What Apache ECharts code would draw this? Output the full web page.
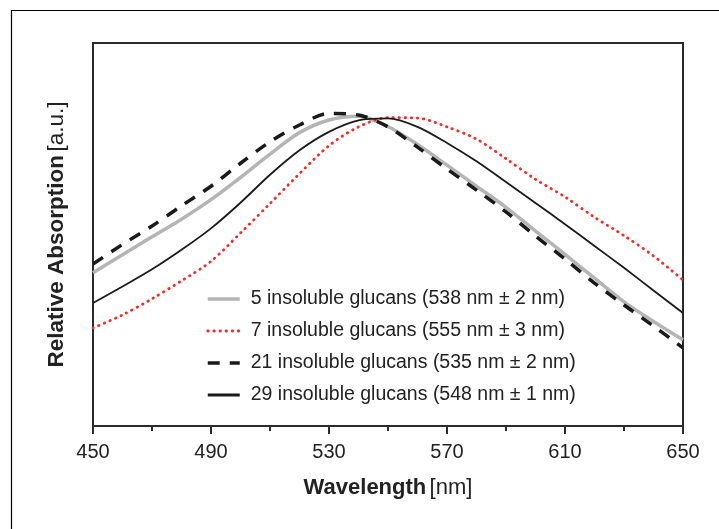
<!DOCTYPE html>
<html><head><meta charset="utf-8">
<script src="https://cdn.jsdelivr.net/npm/echarts@6/dist/echarts.min.js"></script>
<style>html,body{margin:0;padding:0;background:#fff}#c{width:719px;height:529px}</style>
</head><body><div id="c"></div>
<script>
const wavelengths = [450,460,470,480,490,500,510,520,530,540,550,560,570,580,590,600,610,620,630,640,650];
const seriesNames = [
  '5 insoluble glucans (538 nm \u00b1 2 nm)',
  '7 insoluble glucans (555 nm \u00b1 3 nm)',
  '21 insoluble glucans (535 nm \u00b1 2 nm)',
  '29 insoluble glucans (548 nm \u00b1 1 nm)'
];
const glucans5  = [40.0,44.7,49.4,54.0,59.1,64.9,71.0,76.6,79.9,80.9,78.2,73.5,68.1,62.6,57.1,50.9,44.8,38.6,32.4,27.3,22.5];
const glucans7  = [25.6,29.0,33.2,37.9,43.0,50.4,58.1,65.9,73.2,78.1,80.5,80.4,78.1,74.9,69.8,64.4,59.8,54.5,49.7,44.4,38.1];
const glucans21 = [42.3,47.4,52.2,57.5,62.6,68.6,74.2,78.6,81.6,81.2,78.1,72.8,67.1,61.6,55.9,49.6,43.6,37.3,31.6,26.1,20.4];
const glucans29 = [32.1,36.4,40.9,46.0,51.6,58.3,65.6,72.0,76.8,79.8,80.3,78.1,73.9,69.1,63.7,58.2,52.7,47.0,41.3,35.4,29.5];
const xMin = 450, xMax = 650, xStep = 40;

const FONT = '"Liberation Sans", Arial, Helvetica, sans-serif';
const pairs = vals => wavelengths.map((w, i) => [w, vals[i]]);

const chart = echarts.init(document.getElementById('c'), null, {renderer: 'canvas'});
const styles = [
  {color: '#b5b5b5', width: 3.5, type: 'solid', cap: 'butt', legendWidth: 3.5},
  {color: '#f52a2a', width: 2.8, type: [0.5, 5.6], cap: 'round', legendWidth: 2.8},
  {color: '#1a1a1a', width: 3.5, type: [12, 10], cap: 'butt', legendWidth: 3.5},
  {color: '#1a1a1a', width: 1.8, type: 'solid', cap: 'butt', legendWidth: 3}
];
const dataSets = [glucans5, glucans7, glucans21, glucans29];

chart.setOption({
  animation: false,
  backgroundColor: '#fff',
  grid: {left: 93, right: 36, top: 43, bottom: 103, show: true, borderColor: '#2b2b2b', borderWidth: 2},
  xAxis: {
    type: 'value', min: xMin, max: xMax, interval: xStep,
    axisLine: {show: true, lineStyle: {color: '#2b2b2b', width: 2}},
    axisTick: {show: true, length: 8, lineStyle: {color: '#2b2b2b', width: 2}},
    minorTick: {show: true, splitNumber: 2, length: 5, lineStyle: {color: '#2b2b2b', width: 2}},
    splitLine: {show: false},
    axisLabel: {color: '#222', fontSize: 20, fontFamily: FONT, margin: 16},
    name: '{b|Wavelength} {n|[nm]}',
    nameLocation: 'middle', nameGap: 51,
    nameTextStyle: {fontFamily: FONT, rich: {
      b: {fontSize: 22, fontWeight: 'bold', color: '#222', fontFamily: FONT},
      n: {fontSize: 22, color: '#222', fontFamily: FONT}
    }}
  },
  yAxis: {
    type: 'value', min: 0, max: 100,
    axisLine: {show: true, lineStyle: {color: '#2b2b2b', width: 2}},
    axisTick: {show: false}, axisLabel: {show: false}, splitLine: {show: false},
    name: '{b|Relative Absorption} {n|[a.u.]}',
    nameLocation: 'middle', nameGap: 25, nameRotate: 90,
    nameTextStyle: {fontFamily: FONT, rich: {
      b: {fontSize: 22.5, fontWeight: 'bold', color: '#222', fontFamily: FONT},
      n: {fontSize: 22.5, color: '#222', fontFamily: FONT}
    }}
  },
  legend: {
    show: true,
    orient: 'vertical', left: 201, top: 284, itemWidth: 32, itemHeight: 10, itemGap: 12,
    itemStyle: {opacity: 0},
    data: seriesNames.map((n, i) => ({
      name: n,
      itemStyle: {opacity: 0},
      lineStyle: {color: styles[i].color, width: styles[i].legendWidth, type: styles[i].type, cap: styles[i].cap, opacity: 1}
    })),
    textStyle: {fontSize: 19.5, color: '#222', fontFamily: FONT, lineHeight: 20, padding: [0, 0, 0, 6]}
  },
  graphic: [
    {type: 'line', shape: {x1: 11, y1: 10.5, x2: 719, y2: 10.5}, style: {stroke: '#000', lineWidth: 1.2}},
    {type: 'line', shape: {x1: 11.5, y1: 10, x2: 11.5, y2: 529}, style: {stroke: '#000', lineWidth: 1.2}}
  ],
  series: dataSets.map((d, i) => ({
    name: seriesNames[i], type: 'line', data: pairs(d), showSymbol: false, symbol: 'none',
    smooth: 0.3, z: i === 2 ? 5 : 3,
    lineStyle: {color: styles[i].color, width: styles[i].width, type: styles[i].type, cap: styles[i].cap},
    itemStyle: {color: styles[i].color}
  }))
});
</script></body></html>
